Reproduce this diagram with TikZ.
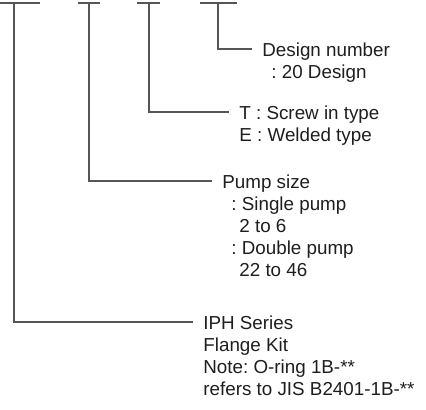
\documentclass[tikz,border=0pt]{standalone}
\usepackage{fontspec}
\setmainfont{Liberation Sans}
\usetikzlibrary{positioning}
\definecolor{leadgray}{HTML}{555555}
\definecolor{textgray}{HTML}{1E1E1E}
\frenchspacing

\begin{document}
\begin{tikzpicture}[x=0.5pt, y=-0.5pt,
  lead/.style={draw=leadgray, line width=0.65pt},
  desc/.style={anchor=north west, align=left, inner xsep=5pt, inner ysep=0pt,
               font=\fontsize{9.4}{11}\selectfont, text=textgray}]
  \useasboundingbox (0,0) rectangle (426,409);

  % top ticks, one per code position
  \foreach \n/\xa/\xb/\xc in {series/0/14/40, size/78/89/100,
                              type/137/149/160, design/200/218/237}{
    \coordinate (\n top) at (\xb,3);
    \draw[lead] (\xa,3) -- (\xc,3);
  }

  % descriptions, west edge = end of the leader
  \node[desc] (design) at (252,42)  {Design number\\\hspace{4.5pt}: 20 Design};
  \node[desc] (type)   at (229,105) {T : Screw in type\\E : Welded type};
  \node[desc] (size)   at (212,174) {Pump size\\\hspace{4.5pt}: Single pump\\\hspace{8.5pt}2 to 6\\
                                     \hspace{4.5pt}: Double pump\\\hspace{8.5pt}22 to 46};
  \node[desc] (series) at (193,315) {IPH Series\\Flange Kit\\Note: O-ring 1B-**\\refers to JIS B2401-1B-**};

  % down, then across to the first line of each text
  \foreach \n in {design, type, size, series}
    \draw[lead] (\n top) |- ([yshift=-3.5pt]\n.north west);
\end{tikzpicture}
\end{document}
